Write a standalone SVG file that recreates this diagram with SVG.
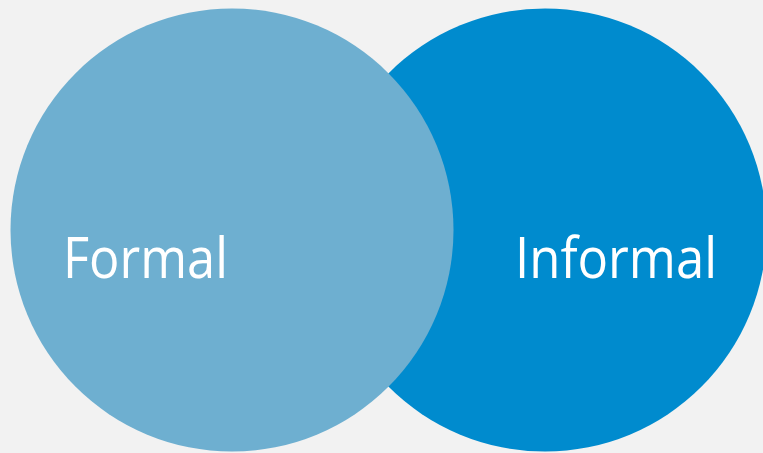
<svg xmlns="http://www.w3.org/2000/svg" width="763" height="453" viewBox="0 0 763 453">
<style>
.lbl{font-family:"Open Sans","Noto Sans","DejaVu Sans",sans-serif;font-size:56px;fill:#ffffff}
</style>
<rect x="0" y="0" width="763" height="453" fill="#F2F2F2"/>
<g id="informal">
<circle cx="545" cy="230" r="221.5" fill="#008BCE"/>
<text class="lbl" x="515" y="278" textLength="202" lengthAdjust="spacingAndGlyphs">Informal</text>
</g>
<g id="formal">
<circle cx="232" cy="230" r="221.5" fill="#6EAFD0"/>
<text class="lbl" x="63" y="278" textLength="165" lengthAdjust="spacingAndGlyphs">Formal</text>
</g>
<g id="connectors"></g>
</svg>
